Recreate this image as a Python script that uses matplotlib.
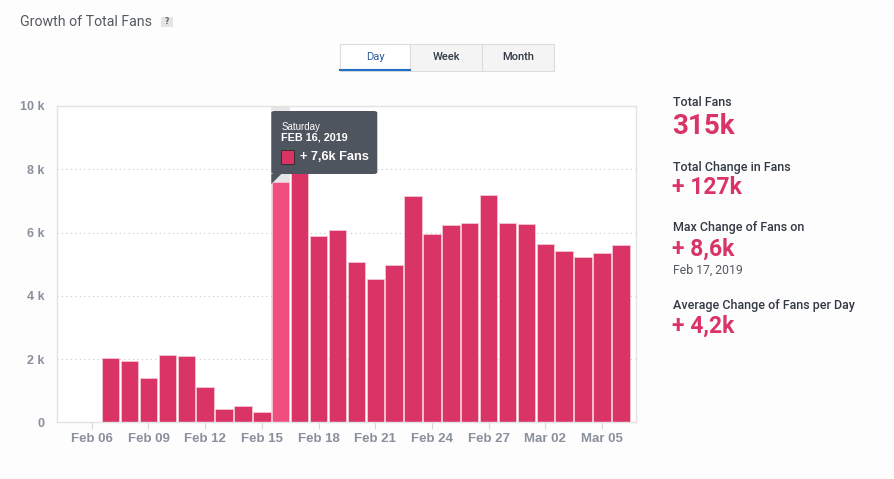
import matplotlib
matplotlib.use("Agg")
import matplotlib.pyplot as plt
import matplotlib.patches as mpatches
import pandas as pd

# ---------------- data ----------------
dates = pd.date_range("2019-02-05", "2019-03-06", freq="D")
fan_change_k = [0, 0, 2.02, 1.94, 1.40, 2.14, 2.09, 1.12, 0.41, 0.50, 0.33,
                7.6, 8.6, 5.89, 6.07, 5.07, 4.53, 4.96, 7.15, 5.96, 6.24,
                6.29, 7.18, 6.29, 6.26, 5.64, 5.42, 5.22, 5.35, 5.59]
highlight_date = "2019-02-16"
y_ticks = [0, 2, 4, 6, 8, 10]
y_tick_labels = ["0", "2 k", "4 k", "6 k", "8 k", "10 k"]
x_tick_dates = pd.date_range("2019-02-06", "2019-03-05", freq="3D")
buttons = ["Day", "Week", "Month"]
stats = [("Total Fans", "315k", None),
         ("Total Change in Fans", "+ 127k", None),
         ("Max Change of Fans on", "+ 8,6k", "Feb 17, 2019"),
         ("Average Change of Fans per Day", "+ 4,2k", None)]
tooltip_day = "Saturday"
tooltip_date = "FEB 16, 2019"
tooltip_value = "+ 7,6k Fans"

# ---------------- style ----------------
BAR = "#d93465"
BAR_HI = "#f04e7e"
PINK_TXT = "#d93465"
W, H = 895, 479

fig = plt.figure(figsize=(W / 100, H / 100), dpi=100)
fig.patch.set_facecolor("#fdfdfd")

def fx(px):
    return px / W

def fy(py):
    return 1 - py / H

ax = fig.add_axes([fx(57), fy(422.3), fx(636) - fx(57), fy(106) - fy(422.3)])
ax.set_facecolor("white")

idx = list(range(len(dates)))
hi = list(dates).index(pd.Timestamp(highlight_date))
colors = [BAR_HI if i == hi else BAR for i in idx]

# crosshair band
ax.axvspan(hi - 0.5, hi + 0.5, color="#e6e6e6", zorder=0.5, lw=0)
ax.bar(idx, fan_change_k, width=0.92, color=colors, edgecolor="#f3c6d4",
       linewidth=0.6, zorder=2)

ax.set_xlim(-0.84, 29.8)
ax.set_ylim(0, 10)
ax.set_yticks(y_ticks)
ax.set_yticklabels(y_tick_labels)
xt = [list(dates).index(d) for d in x_tick_dates]
ax.set_xticks(xt)
ax.set_xticklabels([d.strftime("%b %d") for d in x_tick_dates])
ax.grid(axis="y", linestyle=(0, (1, 3)), color="#c8c8c8", linewidth=0.8, zorder=0)
for t in ax.get_yticklabels():
    t.set_fontfamily("Liberation Sans")
    t.set_fontweight("bold")
    t.set_color("#8a8f9c")
    t.set_fontsize(9)
for t in ax.get_xticklabels():
    t.set_fontfamily("Liberation Sans")
    t.set_fontweight("bold")
    t.set_color("#8a8f9c")
    t.set_fontsize(9.5)
ax.tick_params(axis="y", length=0, pad=9)
ax.tick_params(axis="x", length=5, color="#d8d8d8", pad=3)
for s in ax.spines.values():
    s.set_color("#e3e3e3")
    s.set_linewidth(1)

# tooltip
fig.canvas.draw()
bar_left_px = ax.transData.transform((hi - 0.5, 0))[0]
tx0 = fx(bar_left_px)
box = mpatches.FancyBboxPatch((tx0, fy(174)), fx(106), fy(111) - fy(174),
                              boxstyle="round,pad=0,rounding_size=0.004",
                              transform=fig.transFigure, facecolor="#4f555f",
                              edgecolor="none", zorder=10)
fig.add_artist(box)
tri = mpatches.Polygon([(tx0, fy(174)), (tx0 + fx(10), fy(174)), (tx0, fy(184))],
                       closed=True, transform=fig.transFigure,
                       facecolor="#4f555f", edgecolor="none", zorder=10)
fig.add_artist(tri)
fig.text(tx0 + fx(10), fy(127), tooltip_day, fontsize=7, color="white",
         fontfamily="Liberation Sans", va="center", zorder=11)
fig.text(tx0 + fx(10), fy(138), tooltip_date, fontsize=7.8, color="white",
         fontweight="bold", fontfamily="Liberation Sans", va="center", zorder=11)
sq = mpatches.Rectangle((tx0 + fx(10), fy(164)), fx(13), fy(150) - fy(164),
                        transform=fig.transFigure, facecolor=BAR,
                        edgecolor="#2a2a2a", linewidth=0.6, zorder=11)
fig.add_artist(sq)
fig.text(tx0 + fx(29), fy(157), tooltip_value, fontsize=9.2, color="white",
         fontweight="bold", fontfamily="Liberation Sans", va="center", zorder=11)

# title
fig.text(fx(20), fy(22), "Growth of Total Fans", fontsize=10.2, color="#555a60",
         fontfamily="Roboto", va="center")
qb = mpatches.Rectangle((fx(161), fy(27)), fx(12), fy(17) - fy(27),
                        transform=fig.transFigure, facecolor="#e4e4e4",
                        edgecolor="none")
fig.add_artist(qb)
fig.text(fx(167), fy(22), "?", fontsize=5.5, color="#666", ha="center",
         va="center", fontweight="bold")

# buttons
bx = [340, 410, 482, 554]
for i, lab in enumerate(buttons):
    x0, x1 = bx[i], bx[i + 1]
    fc = "white" if i == 0 else "#f4f4f4"
    r = mpatches.Rectangle((fx(x0), fy(71)), fx(x1 - x0), fy(44) - fy(71),
                           transform=fig.transFigure, facecolor=fc,
                           edgecolor="#dcdcdc", linewidth=0.8)
    fig.add_artist(r)
    fig.text(fx((x0 + x1) / 2), fy(57), lab, fontsize=8, ha="center",
             va="center", fontfamily="Roboto",
             color="#2c5d9c" if i == 0 else "#333a44",
             fontweight="normal" if i == 0 else "medium")
fig.add_artist(plt.Line2D([fx(340), fx(410)], [fy(70.5), fy(70.5)],
                          transform=fig.transFigure, color="#1f6fc5", lw=1.5))

# stats panel
ys = [(102, 127), (167, 188), (228, 249), (305, 326)]
for (lab, val, sub), (yl, yv) in zip(stats, ys):
    fig.text(fx(673), fy(yl), lab, fontsize=9, color="#333a44",
             fontfamily="Roboto", fontweight="medium", va="center")
    big = 20 if val == "315k" else 16.5
    fig.text(fx(672), fy(yv), val, fontsize=big, color=PINK_TXT,
             fontfamily="Roboto", fontweight="bold", va="center")
    if sub:
        fig.text(fx(673), fy(270), sub, fontsize=8.8, color="#555a60",
                 fontfamily="Roboto", va="center")

fig.savefig("out.png", dpi=100, facecolor=fig.get_facecolor())
